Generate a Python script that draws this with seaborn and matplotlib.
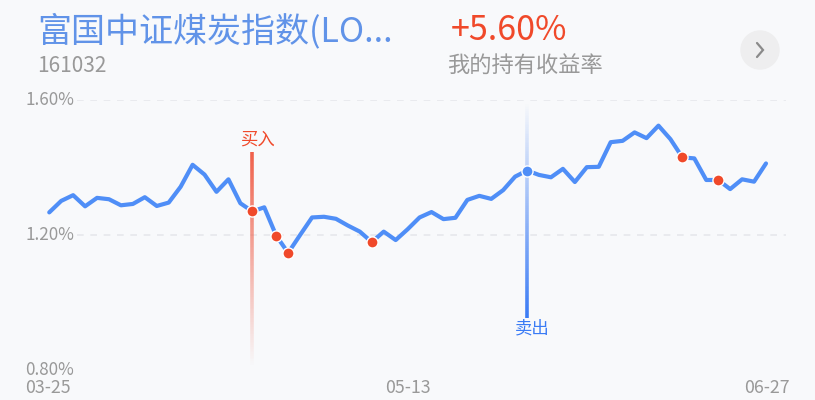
import numpy as np
import pandas as pd
import seaborn as sns
import matplotlib
matplotlib.use('Agg')
import matplotlib.pyplot as plt
from matplotlib.collections import LineCollection
from matplotlib.patches import Circle

# ---- data ----
values = [1.267, 1.301, 1.318, 1.285, 1.310, 1.306, 1.288, 1.292, 1.312, 1.286,
          1.296, 1.343, 1.408, 1.379, 1.328, 1.365, 1.294, 1.270, 1.282, 1.198,
          1.147, 1.200, 1.252, 1.254, 1.248, 1.228, 1.210, 1.179, 1.210, 1.185,
          1.217, 1.252, 1.268, 1.247, 1.251, 1.304, 1.316, 1.307, 1.333, 1.373,
          1.391, 1.378, 1.371, 1.396, 1.357, 1.401, 1.402, 1.475, 1.479, 1.504,
          1.487, 1.524, 1.484, 1.430, 1.427, 1.363, 1.363, 1.336, 1.365, 1.358,
          1.412]
tick_idx = [0, 30, 60]
tick_labels = ['03-25', '05-13', '06-27']
y_ticks = [0.80, 1.20, 1.60]
y_tick_labels = ['0.80%', '1.20%', '1.60%']
buy_idx = 17
sell_idx = 40
dot_idx = [19, 20, 27, 53, 56]

title = '富国中证煤炭指数(LO...'
code = '161032'
ret_text = '+5.60%'
ret_label = '我的持有收益率'

df = pd.DataFrame({'idx': np.arange(len(values)), 'val': values})

BG = '#f8f9fb'
LINE = '#4f8ef7'
RED = '#f0492a'
BLUE = '#3a7bf5'
GREY = '#999999'

sns.set_theme(style='white')
plt.rcParams['font.family'] = ['Noto Sans CJK SC', 'DejaVu Sans']

W, H = 815, 400
fig = plt.figure(figsize=(W / 100, H / 100), dpi=100, facecolor=BG)

# plot area: px x 25..790, y 100..370
ax = fig.add_axes([25 / W, 30 / H, 765 / W, 270 / H])
ax.set_facecolor(BG)
for s in ax.spines.values():
    s.set_visible(False)
ax.set_xlim(-2.03, 62.01)
ax.set_ylim(0.80, 1.60)
ax.set_xticks([])
ax.set_yticks([])

# dashed grid lines (start after the labels)
for yv in y_ticks[1:]:
    ax.plot([2.3, 61.7], [yv, yv], color='#e6e8ec', lw=1.2,
            dashes=(4, 4), zorder=1)

# y labels sit inside the plot
for yv, lab in zip(y_ticks, y_tick_labels):
    ax.text(-2.0, yv, lab, ha='left', va='center', fontsize=12.3,
            color=GREY, zorder=2)

# x labels
xl = ax.get_xlim()
for i, lab in zip(tick_idx, tick_labels):
    ha = 'left' if i == tick_idx[0] else ('right' if i == tick_idx[-1] else 'center')
    xx = xl[0] if ha == 'left' else (xl[1] if ha == 'right' else i)
    ax.text(xx, 0.80 - 18 / 337.5, lab, ha=ha, va='center', fontsize=12.8,
            color=GREY, clip_on=False)

# gradient marker lines
def grad_line(x, y0, y1, rgb, a0, a1, n=120):
    ys = np.linspace(y0, y1, n + 1)
    segs = [[(x, ys[k]), (x, ys[k + 1])] for k in range(n)]
    alphas = np.linspace(a0, a1, n)
    cols = [(*matplotlib.colors.to_rgb(rgb), a) for a in alphas]
    lc = LineCollection(segs, colors=cols, linewidths=2.6, zorder=3,
                        capstyle='butt')
    lc.set_clip_on(False)
    ax.add_collection(lc)

grad_line(buy_idx, 1.447, 0.81, '#f0604a', 1.0, 0.0)
grad_line(sell_idx, 1.594, 0.954, BLUE, 0.0, 1.0)

ax.text(buy_idx + 0.45, 1.447 + 12 / 337.5, '买入', ha='center', va='center',
        fontsize=12.5, color=RED)
ax.text(sell_idx + 0.4, 0.954 - 10 / 337.5, '卖出', ha='center', va='center',
        fontsize=12.5, color=BLUE)

# main line
sns.lineplot(data=df, x='idx', y='val', ax=ax, color=LINE, lw=3.0, zorder=4,
             legend=False)
ax.set_xlabel('')
ax.set_ylabel('')

# trade dots
ax.scatter(df['idx'].iloc[dot_idx + [buy_idx]], df['val'].iloc[dot_idx + [buy_idx]],
           s=64, color=RED, edgecolor='white', linewidth=1.0, zorder=5)
ax.scatter([sell_idx], [values[sell_idx]], s=64, color=LINE,
           edgecolor='white', linewidth=1.0, zorder=5)

# header texts
def px(x, y):
    return x / W, 1 - y / H

fig.text(*px(37, 31), title, fontsize=24.5, color='#6193e8', va='center', ha='left')
fig.text(*px(37, 66), code, fontsize=15, color=GREY, va='center', ha='left')
fig.text(*px(451, 31), ret_text, fontsize=24.5, color=RED, va='center', ha='left')
fig.text(*px(447, 66), ret_label, fontsize=16, color=GREY, va='center', ha='left')

# round arrow button
bx = fig.add_axes([740 / W, 1 - 70 / H, 40 / W, 40 / H])
bx.set_xlim(-1, 1)
bx.set_ylim(-1, 1)
bx.set_aspect('equal')
bx.axis('off')
bx.add_patch(Circle((0, 0), 0.95, color='#eeeeef'))
bx.plot([-0.15, 0.15, -0.15], [0.35, 0.0, -0.35], color='#8a8a8a', lw=1.6,
        solid_joinstyle='miter')

fig.savefig('out.png', dpi=100, facecolor=BG)
